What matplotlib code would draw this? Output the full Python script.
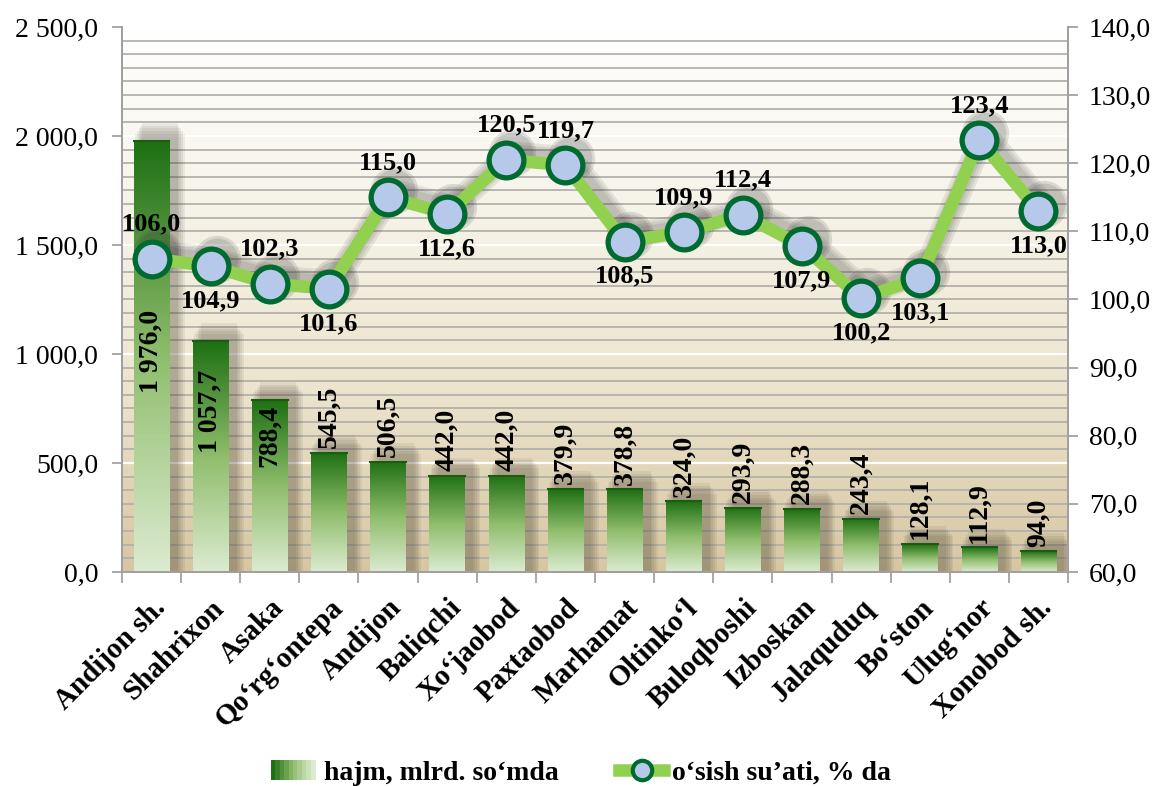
import numpy as np
import matplotlib
matplotlib.use('Agg')
import matplotlib.pyplot as plt
from matplotlib.colors import LinearSegmentedColormap
from matplotlib.patches import Rectangle
from matplotlib.lines import Line2D
from matplotlib.legend_handler import HandlerBase

# Ma'lumotlar
tumanlar = ['Andijon sh.', 'Shahrixon', 'Asaka', 'Qo‘rg‘ontepa', 'Andijon', 'Baliqchi',
            'Xo‘jaobod', 'Paxtaobod', 'Marhamat', 'Oltinko‘l', 'Buloqboshi', 'Izboskan',
            'Jalaquduq', 'Bo‘ston', 'Ulug‘nor', 'Xonobod sh.']
hajm = [1976.0, 1057.7, 788.4, 545.5, 506.5, 442.0, 442.0, 379.9, 378.8, 324.0,
        293.9, 288.3, 243.4, 128.1, 112.9, 94.0]
osish = [106.0, 104.9, 102.3, 101.6, 115.0, 112.6, 120.5, 119.7, 108.5, 109.9,
         112.4, 107.9, 100.2, 103.1, 123.4, 113.0]
# yorliq joyi: 1 - yuqorida, -1 - pastda
osish_joy = [1, -1, 1, -1, 1, -1, 1, 1, -1, 1, 1, -1, -1, -1, 1, -1]
# ustun ichidagi yorliqlar (yorliq yuqori cheti, mlrd. so'm)
ichki_yorliq = {0: 1202, 1: 927, 2: 766}

plt.rcParams['font.family'] = ['Liberation Serif', 'DejaVu Serif']

bar_cmap = LinearSegmentedColormap.from_list('bar', ['#dcebd0', '#8fbd6c', '#1f7014'])
bg_cmap = LinearSegmentedColormap.from_list('bg', ['#d7c6a1', '#ece4cd', '#f6f3e8', '#ffffff'])


def fmt(v):
    return f'{v:,.1f}'.replace(',', ' ').replace('.', ',')


fig = plt.figure(figsize=(11.55, 7.87), dpi=100)
ax = fig.add_axes([0.1056, 0.2732, 0.8191, 0.6925])
ax2 = ax.twinx()

x = np.arange(len(tumanlar))

# fon
grad = np.linspace(0, 1, 256).reshape(-1, 1)
ax.imshow(grad, cmap=bg_cmap, origin='lower', extent=[0, 1, 0, 1],
          transform=ax.transAxes, aspect='auto', zorder=0)
for yv in np.arange(62.5, 2500, 62.5):
    major = abs(yv % 500) < 1e-6
    ax.axhline(yv, color='white' if major else '#b3b1ab', lw=1.6 if major else 1.3, zorder=1)

# ustunlar
w = 0.6
gbar = np.linspace(0, 1, 128).reshape(-1, 1)
for xi, h in zip(x, hajm):
    # yumshoq soya
    for k in range(5):
        e = 0.03 * k
        ax.add_patch(Rectangle((xi - w / 2 + 0.14 - e, -10), w + 2 * e, h + 45 + 12 * (4 - k),
                               color='#3f382b', alpha=0.08, lw=0, zorder=1.5))
    ax.imshow(gbar, cmap=bar_cmap, origin='lower', extent=[xi - w / 2, xi + w / 2, 0, h],
              aspect='auto', zorder=2)
    ax.plot([xi - w / 2, xi + w / 2], [h, h], color='#1a5c10', lw=1.5, zorder=2.1)
ax.set_xlim(-0.5, len(tumanlar) - 0.5)
ax.set_ylim(0, 2500)
ax2.set_ylim(60, 140)

for i, (xi, h) in enumerate(zip(x, hajm)):
    if i in ichki_yorliq:
        ax.text(xi, ichki_yorliq[i], fmt(h), rotation=90, ha='center', va='top',
                fontsize=20, fontweight='bold', zorder=3)
    else:
        ax.text(xi, h + 22, fmt(h), rotation=90, ha='center', va='bottom',
                fontsize=20, fontweight='bold', zorder=3)

# chiziq (soya bilan)
for lw in [18, 14, 10]:
    ax2.plot(x + 0.08, np.array(osish) + 0.9, color='#333333', lw=lw, alpha=0.1,
             solid_joinstyle='round', solid_capstyle='round', zorder=1)
for ms in [34, 30]:
    ax2.plot(x + 0.1, np.array(osish) + 1.0, color='#333333', lw=0, marker='o', markersize=ms,
             alpha=0.14, markeredgewidth=0, zorder=1)
ax2.plot(x, osish, color='#92d050', lw=9, marker='o', markersize=25,
         markerfacecolor='#b7c9ea', markeredgecolor='#006b30', markeredgewidth=3.8,
         solid_joinstyle='miter', zorder=3)
for xi, v, j in zip(x, osish, osish_joy):
    ax2.annotate(fmt(v), (xi, v), xytext=(0, 25 * j), textcoords='offset points',
                 ha='center', va='center', fontsize=19, fontweight='bold', zorder=4)

# o'qlar
ax.set_yticks(np.arange(0, 2501, 500))
ax.set_yticklabels([fmt(v) for v in np.arange(0, 2501, 500)], fontsize=20)
ax2.set_yticks(np.arange(60, 141, 10))
ax2.set_yticklabels([fmt(v) for v in np.arange(60, 141, 10)], fontsize=20)
ax.set_xticks(x)
ax.set_xticklabels(tumanlar, rotation=45, ha='right', rotation_mode='anchor',
                   fontsize=21, fontweight='bold')
ax.set_xticks(np.arange(-0.5, len(tumanlar), 1), minor=True)
ax.tick_params(axis='x', which='major', length=0, pad=16)
ax.tick_params(axis='x', which='minor', length=8, color='#999999', width=1.2)
ax.tick_params(axis='y', length=7, color='#999999', width=1.2, pad=10)
ax2.tick_params(axis='y', length=7, color='#999999', width=1.2, pad=8)
for a in (ax, ax2):
    for s in a.spines.values():
        s.set_color('#a0a0a0')
        s.set_linewidth(1.3)
    a.spines['top'].set_visible(False)


class GradHandler(HandlerBase):
    def create_artists(self, legend, orig, xd, yd, width, height, fontsize, trans):
        arts = []
        n = 10
        for k in range(n):
            c = bar_cmap(1 - k / (n - 1))
            arts.append(Rectangle((xd + k * width / n, yd), width / n + 0.3, height,
                                  color=c, transform=trans, lw=0))
        return arts


bar_handle = Rectangle((0, 0), 1, 1)
line_handle = Line2D([], [], color='#92d050', lw=9, marker='o', markersize=14,
                     markerfacecolor='#b7c9ea', markeredgecolor='#006b30', markeredgewidth=3)
fig.legend([bar_handle, line_handle], ['hajm, mlrd. so‘mda', 'o‘sish su’ati, % da'],
           loc='center', bbox_to_anchor=(0.503, 0.018), ncol=2, frameon=False,
           prop={'size': 20, 'weight': 'bold'}, handler_map={bar_handle: GradHandler()},
           handlelength=1.6, handletextpad=0.3, columnspacing=2.2)

fig.savefig('out.png', dpi=100)
